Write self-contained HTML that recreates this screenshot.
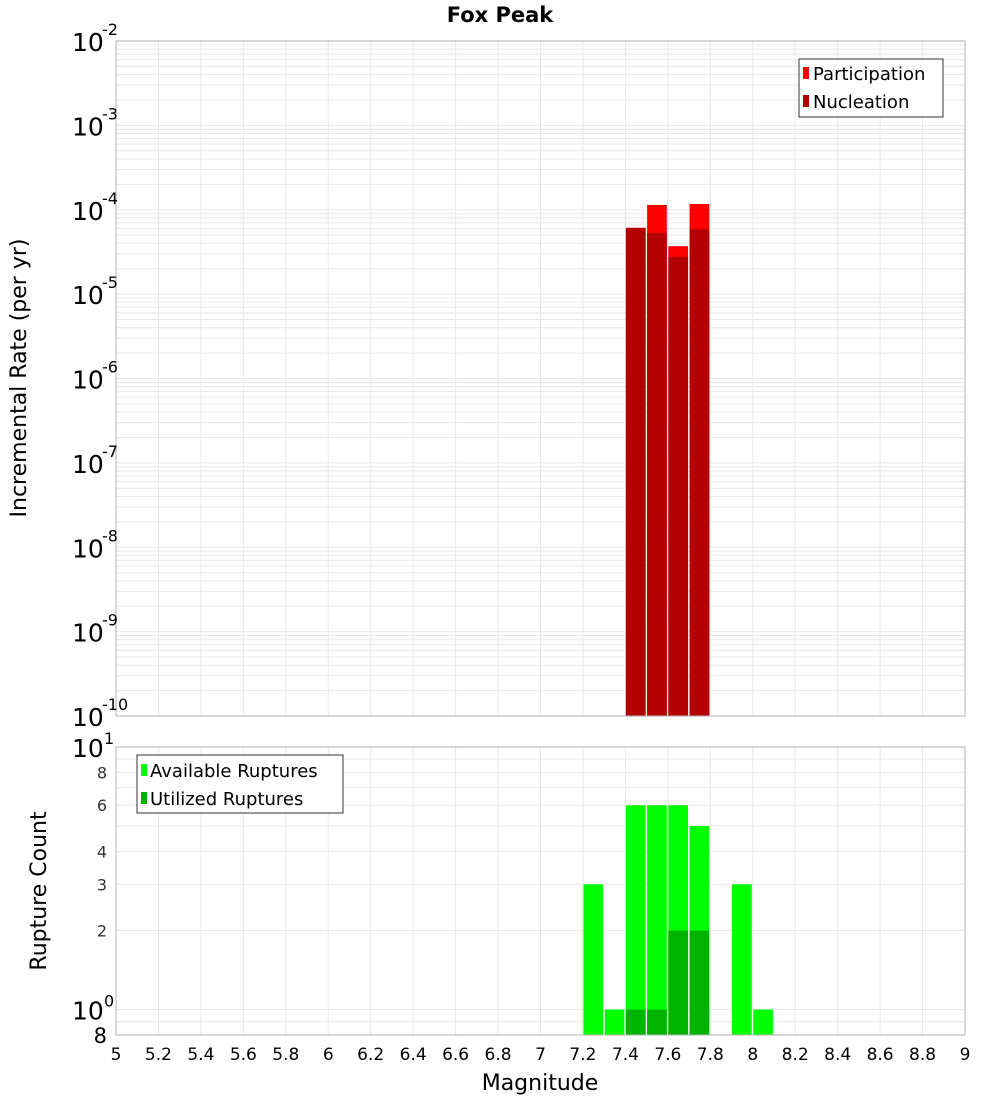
<!DOCTYPE html>
<html><head><meta charset="utf-8"><style>body{margin:0;background:#fff}svg{display:block;font-family:"DejaVu Sans","Liberation Sans",sans-serif}</style></head>
<body>
<svg id="c" width="1000" height="1100" xmlns="http://www.w3.org/2000/svg">
<text x="500" y="22" text-anchor="middle" font-size="21" font-weight="bold">Fox Peak</text>
<text transform="translate(26,378) rotate(-90)" text-anchor="middle" font-size="22">Incremental Rate (per yr)</text>
<text transform="translate(46,891) rotate(-90)" text-anchor="middle" font-size="22">Rupture Count</text>
<text x="540" y="1090" text-anchor="middle" font-size="22">Magnitude</text>
<g id="g"></g>
</svg>
<script>
const binStarts=[7.2,7.3,7.4,7.5,7.6,7.7,7.8,7.9,8.0];
const nuclMags=[7.4,7.5,7.6,7.7];
const nuclVals=[6.1e-5,5.3e-5,2.75e-5,5.9e-5];
const partVals=[6.1e-5,1.14e-4,3.7e-5,1.17e-4];
const availMags=[7.2,7.3,7.4,7.5,7.6,7.7,7.9,8.0];
const availVals=[3,1,6,6,6,5,3,1];
const utilMags=[7.4,7.5,7.6,7.7];
const utilVals=[1,1,2,2];
const xTicks=[5,5.2,5.4,5.6,5.8,6,6.2,6.4,6.6,6.8,7,7.2,7.4,7.6,7.8,8,8.2,8.4,8.6,8.8,9];
const topExps=[-2,-3,-4,-5,-6,-7,-8,-9,-10];
const botTicks=[8,6,4,3,2];

const NS="http://www.w3.org/2000/svg",G=document.getElementById('g');
function el(t,a,txt){const e=document.createElementNS(NS,t);for(const k in a)e.setAttribute(k,a[k]);if(txt!==undefined)e.textContent=txt;G.appendChild(e);return e;}
const L=116,R=965,T1=41,B1=716,T2=747,B2=1035;
const x=m=>L+(m-5)/4*(R-L);
const y1=v=>T1+(-2-Math.log10(v))/8*(B1-T1);
const y2=v=>T2+(1-Math.log10(v))/(1-Math.log10(0.8))*(B2-T2);
// panels
let e=el('rect',{x:L,y:T1,width:R-L,height:B1-T1,fill:'#fff'});

e=el('rect',{x:L,y:T2,width:R-L,height:B2-T2,fill:'#fff'});

// grids
for(const t of xTicks){for(const [a,b] of [[T1,B1],[T2,B2]]){e=el('line',{x1:x(t),x2:x(t),y1:a,y2:b,stroke:'#e8e8e8'});
}}
for(let d=-10;d<-2;d++)for(let k=1;k<10;k++){const yy=y1(k*Math.pow(10,d));e=el('line',{x1:L,x2:R,y1:yy,y2:yy,stroke:'#e8e8e8'});
}
for(const v of [0.8,0.9,1,2,3,4,5,6,7,8,9]){const yy=y2(v);e=el('line',{x1:L,x2:R,y1:yy,y2:yy,stroke:'#e8e8e8'});
}
// top bars
partVals.forEach((v,i)=>{const m=nuclMags[i];e=el('rect',{x:x(m)+0.5,y:y1(v),width:x(m+0.1)-x(m)-1.5,height:B1-y1(v),fill:'#ff0000'});
});
nuclVals.forEach((v,i)=>{const m=nuclMags[i];e=el('rect',{x:x(m)+0.5,y:y1(v),width:x(m+0.1)-x(m)-1.5,height:B1-y1(v),fill:'#b30000'});
});
// bottom bars
availVals.forEach((v,i)=>{const m=availMags[i];e=el('rect',{x:x(m)+0.5,y:y2(v),width:x(m+0.1)-x(m)-1.5,height:B2-y2(v),fill:'#00ff00'});
});
utilVals.forEach((v,i)=>{const m=utilMags[i];e=el('rect',{x:x(m)+0.5,y:y2(v),width:x(m+0.1)-x(m)-1.5,height:B2-y2(v),fill:'#00b300'});
});
// borders
for(const [a,b] of [[T1,B1],[T2,B2]]){e=el('rect',{x:L,y:a,width:R-L,height:b-a,fill:'none',stroke:'#b0b0b0'});
}
// x ticks
for(const t of xTicks){e=el('text',{x:x(t),y:1060,'text-anchor':'middle','font-size':17},String(t));
}
// top y ticks
for(const d of topExps){const yy=y1(Math.pow(10,d));e=el('text',{x:72,y:yy+10,'font-size':25},'10');

e=el('text',{x:102,y:yy-6,'font-size':16},String(d));
}
// bottom y ticks
e=el('text',{x:72,y:y2(10)+10,'font-size':25},'10');
e=el('text',{x:104,y:y2(10)-3,'font-size':16},'1');
e=el('text',{x:72,y:y2(1)+10,'font-size':25},'10');
e=el('text',{x:104,y:y2(1)-3,'font-size':16},'0');
e=el('text',{x:107,y:y2(0.8)+8,'font-size':21,'text-anchor':'end'},'8');
for(const v of botTicks){e=el('text',{x:107,y:y2(v)+6,'font-size':16,'text-anchor':'end',fill:'#333'},String(v));
}
// legends
e=el('rect',{x:799,y:59,width:144,height:58,fill:'#fff',stroke:'#333'});
e=el('rect',{x:803,y:67,width:6,height:12,fill:'#ff0000'});
e=el('text',{x:813,y:80,'font-size':18},'Participation');
e=el('rect',{x:803,y:95,width:6,height:12,fill:'#b30000'});
e=el('text',{x:813,y:108,'font-size':18},'Nucleation');
e=el('rect',{x:137,y:755,width:206,height:58,fill:'#fff',stroke:'#333'});
e=el('rect',{x:141,y:764,width:6,height:12,fill:'#00ff00'});
e=el('text',{x:150,y:777,'font-size':18},'Available Ruptures');
e=el('rect',{x:141,y:792,width:6,height:12,fill:'#00b300'});
e=el('text',{x:150,y:805,'font-size':18},'Utilized Ruptures');
</script>
</body></html>
